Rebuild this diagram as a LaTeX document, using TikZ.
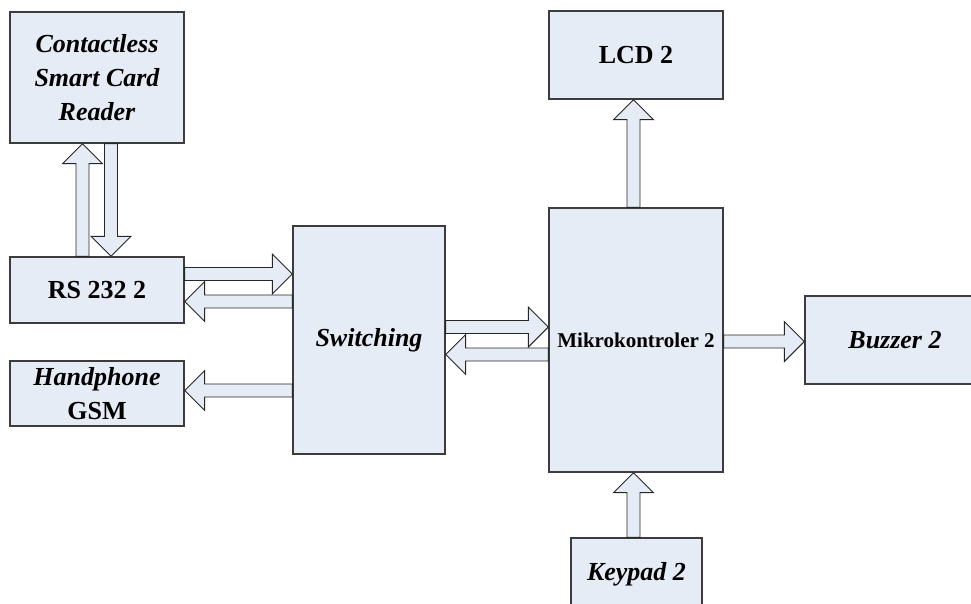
\documentclass[tikz,border=0pt]{standalone}
\usepackage{fontspec}
\setmainfont{Liberation Serif}
\usetikzlibrary{calc}

\definecolor{boxfill}{RGB}{230,236,246}
\definecolor{boxline}{RGB}{60,60,60}

\tikzset{
  blok/.style={draw=boxline,line width=1.3pt,fill=boxfill,inner sep=0pt,
    align=center,font=\fontsize{26}{34}\selectfont\bfseries},
  blockarrow/.style={draw=black!85,line width=0.9pt,fill=boxfill,line join=miter}
}

% block arrow from #1 to #2
\newcommand\barrow[2]{%
  \coordinate (ba) at (#1);
  \coordinate (bb) at (#2);
  \coordinate (bq) at ($(bb)!20pt!(ba)$);
  \filldraw[blockarrow] ($(ba)!6.5pt!90:(bb)$) -- ($(bq)!6.5pt!-90:(ba)$)
    -- ($(bq)!20pt!-90:(ba)$) -- (bb) -- ($(bq)!20pt!90:(ba)$)
    -- ($(bq)!6.5pt!90:(ba)$) -- ($(ba)!6.5pt!-90:(bb)$) -- cycle;
}

\begin{document}
\begin{tikzpicture}[x=1pt,y=-1pt]
   \useasboundingbox (0,0) rectangle (971,603);

   \node[blok,minimum width=174pt,minimum height=131pt] (cr) at (97,77.5)
     {\itshape Contactless\\\itshape Smart Card\\\itshape Reader};
   \node[blok,minimum width=174pt,minimum height=66pt] (rs) at (97,290) {RS 232 2};
   \node[blok,minimum width=174pt,minimum height=65pt] (hp) at (97,393.5)
     {\itshape Handphone\\GSM};
   \node[blok,minimum width=152pt,minimum height=228pt] (sw) at (369,340) {\itshape Switching};
   \node[blok,minimum width=174pt,minimum height=264pt,
     font=\fontsize{21}{25}\selectfont\bfseries] (mk) at (636,340) {Mikrokontroler 2};
   \node[blok,minimum width=174pt,minimum height=88pt] (lcd) at (636,55) {LCD 2};
   \node[blok,minimum width=180pt,minimum height=88pt] (bz) at (895,340) {\itshape Buzzer 2};
   \node[blok,minimum width=131pt,minimum height=72pt] (kp) at (636.5,574) {\itshape Keypad 2};

   \barrow{82.5,0 |- rs.north}{82.5,0 |- cr.south}
   \barrow{111,0 |- cr.south}{111,0 |- rs.north}
   \barrow{rs.east |- 0,274}{sw.west |- 0,274}
   \barrow{sw.west |- 0,301.5}{rs.east |- 0,301.5}
   \barrow{sw.west |- 0,390.5}{hp.east |- 0,390.5}
   \barrow{sw.east |- 0,327}{mk.west |- 0,327}
   \barrow{mk.west |- 0,354.5}{sw.east |- 0,354.5}
   \barrow{633.5,0 |- mk.north}{633.5,0 |- lcd.south}
   \barrow{mk.east |- 0,341.5}{bz.west |- 0,341.5}
   \barrow{633.5,0 |- kp.north}{633.5,0 |- mk.south}
\end{tikzpicture}
\end{document}
